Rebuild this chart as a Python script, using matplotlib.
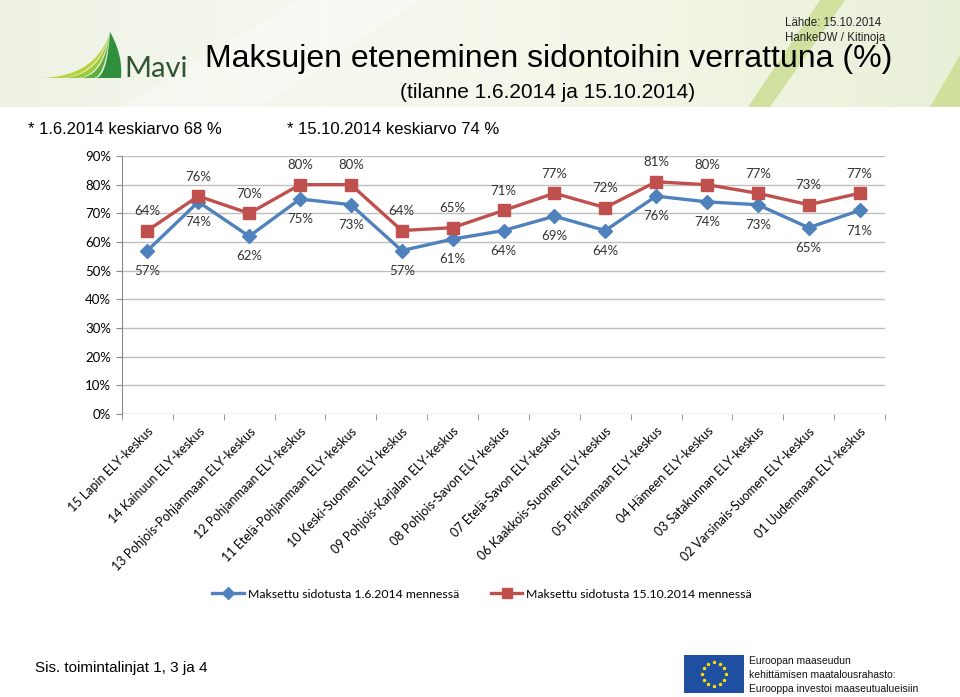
import numpy as np
import matplotlib.pyplot as plt
from matplotlib.patches import Polygon, Rectangle
from matplotlib.lines import Line2D
from matplotlib.colors import LinearSegmentedColormap

regions = ['15 Lapin ELY-keskus', '14 Kainuun ELY-keskus', '13 Pohjois-Pohjanmaan ELY-keskus',
           '12 Pohjanmaan ELY-keskus', '11 Etelä-Pohjanmaan ELY-keskus', '10 Keski-Suomen ELY-keskus',
           '09 Pohjois-Karjalan ELY-keskus', '08 Pohjois-Savon ELY-keskus', '07 Etelä-Savon ELY-keskus',
           '06 Kaakkois-Suomen ELY-keskus', '05 Pirkanmaan ELY-keskus', '04 Hämeen ELY-keskus',
           '03 Satakunnan ELY-keskus', '02 Varsinais-Suomen ELY-keskus', '01 Uudenmaan ELY-keskus']
paid_june = [57, 74, 62, 75, 73, 57, 61, 64, 69, 64, 76, 74, 73, 65, 71]
paid_oct = [64, 76, 70, 80, 80, 64, 65, 71, 77, 72, 81, 80, 77, 73, 77]
label_june = 'Maksettu sidotusta 1.6.2014 mennessä'
label_oct = 'Maksettu sidotusta 15.10.2014 mennessä'
yticks = [0, 10, 20, 30, 40, 50, 60, 70, 80, 90]

BLUE = '#4F81BD'
RED = '#C0504D'
chart_font = 'Lato'
head_font = 'Liberation Sans'

W, H = 960, 697
fig = plt.figure(figsize=(W / 100, H / 100), dpi=100)
fig.patch.set_facecolor('white')

# header band background
hdr = fig.add_axes([0, 1 - 107 / H, 1, 107 / H])
hdr.set_xlim(0, W)
hdr.set_ylim(107, 0)
hdr.axis('off')
grad = np.vstack([np.linspace(0, 1, 300)] * 10)
cmap = LinearSegmentedColormap.from_list('hdr', ['#eef2e4', '#f6f8ef', '#f2f6e6', '#e9f0d8'])
hdr.imshow(grad, cmap=cmap, extent=[0, W, 107, 0], aspect='auto')
hdr.add_patch(Polygon([[120, 107], [300, 0], [420, 0], [260, 107]], closed=True, color='white', alpha=0.35, lw=0))
hdr.add_patch(Polygon([[748, 107], [820, 0], [845, 0], [770, 107]], closed=True, color='#c9dc8e', alpha=0.8, lw=0))
hdr.add_patch(Polygon([[930, 107], [960, 55], [960, 107]], closed=True, color='#c9dc8e', alpha=0.8, lw=0))

# overlay in pixel coordinates
ov = fig.add_axes([0, 0, 1, 1], zorder=5)
ov.set_xlim(0, W)
ov.set_ylim(H, 0)
ov.axis('off')
ov.patch.set_alpha(0)


def bez(p0, p1, p2, n=30):
    t = np.linspace(0, 1, n)[:, None]
    return (1 - t) ** 2 * np.array(p0) + 2 * (1 - t) * t * np.array(p1) + t ** 2 * np.array(p2)


# Mavi logo: curved blades meeting at a peak
peak = (110, 32)
bases = [42, 62, 80, 96, 121]
blade_cols = ['#b9d23a', '#9ccb3b', '#5fae3f', '#2f8f3c']
for k, c in enumerate(blade_cols):
    b0, b1 = bases[k], bases[k + 1]
    left = bez((b0, 78), (b0 + 0.8 * (peak[0] - b0), 76), peak)
    if k == len(blade_cols) - 1:
        right = bez(peak, (123, 55), (b1, 78))
    else:
        right = bez((b1 - 2, 78), (b1 - 2 + 0.8 * (peak[0] - b1), 76), peak)[::-1]
    ov.add_patch(Polygon(np.vstack([left, right]), closed=True, color=c, lw=0))
ov.text(124, 77, 'Mavi', fontsize=21, color='#2f5535', fontfamily='Lato', va='baseline')

# titles
ov.text(205, 59, 'Maksujen eteneminen sidontoihin verrattuna (%)', fontsize=23, fontfamily=head_font,
        va='center', ha='left', color='black')
ov.text(548, 92, '(tilanne 1.6.2014 ja 15.10.2014)', fontsize=15, fontfamily=head_font,
        va='center', ha='center', color='black')
ov.text(785, 23, 'Lähde: 15.10.2014', fontsize=8.3, fontfamily=head_font, va='center', color='#222222')
ov.text(785, 38, 'HankeDW / Kitinoja', fontsize=8.3, fontfamily=head_font, va='center', color='#222222')
ov.text(28, 130, '* 1.6.2014 keskiarvo 68 %', fontsize=12, fontfamily=head_font, va='center')
ov.text(287, 130, '* 15.10.2014 keskiarvo 74 %', fontsize=12, fontfamily=head_font, va='center')

# footer
ov.text(35, 668, 'Sis. toimintalinjat 1, 3 ja 4', fontsize=11, fontfamily=head_font, va='center')
ov.add_patch(Rectangle((684, 655), 60, 38, color='#1f4fa0', lw=0))
ang = np.linspace(0, 2 * np.pi, 13)[:-1]
ov.scatter(714 + 12 * np.cos(ang), 674 + 12 * np.sin(ang), s=3, marker='*', color='#ffdd00', zorder=6)
for i, line in enumerate(['Euroopan maaseudun', 'kehittämisen maatalousrahasto:',
                          'Eurooppa investoi maaseutualueisiin']):
    ov.text(749, 661 + i * 14, line, fontsize=7.5, fontfamily=head_font, va='center', color='#111111')

# chart
ax = fig.add_axes([122 / W, 1 - 414 / H, (885 - 122) / W, (414 - 156) / H])
x = np.arange(len(regions))
ax.plot(x, paid_june, color=BLUE, lw=2.4, marker='D', ms=7, label=label_june, zorder=3)
ax.plot(x, paid_oct, color=RED, lw=2.4, marker='s', ms=8, label=label_oct, zorder=3)
for i in x:
    ax.annotate(f'{paid_oct[i]}%', (i, paid_oct[i]), xytext=(0, 14), textcoords='offset points',
                ha='center', va='center', fontsize=9.5, fontfamily=chart_font, color='#333333')
    ax.annotate(f'{paid_june[i]}%', (i, paid_june[i]), xytext=(0, -14.5), textcoords='offset points',
                ha='center', va='center', fontsize=9.5, fontfamily=chart_font, color='#333333')

ax.set_xlim(-0.5, len(regions) - 0.5)
ax.set_ylim(0, 90)
ax.set_yticks(yticks)
ax.set_yticklabels([f'{v}%' for v in yticks], fontsize=9.5, fontfamily=chart_font)
ax.set_xticks(x)
ax.set_xticklabels(regions, rotation=45, ha='right', va='top', rotation_mode='anchor',
                   fontsize=9, fontfamily=chart_font)
ax.set_xticks(np.arange(-0.5, len(regions), 1), minor=True)
ax.tick_params(axis='x', which='major', length=0, pad=8)
ax.tick_params(axis='x', which='minor', length=4, color='#888888')
ax.tick_params(axis='y', length=4, color='#888888', pad=4)
ax.grid(axis='y', color='#BFBFBF', lw=1)
ax.set_axisbelow(True)
for s in ['top', 'right', 'bottom']:
    ax.spines[s].set_visible(False)
ax.spines['left'].set_color('#888888')

handles = [Line2D([], [], color=BLUE, lw=2.4, marker='D', ms=6),
           Line2D([], [], color=RED, lw=2.4, marker='s', ms=7)]
fig.legend(handles, [label_june, label_oct], loc='center', bbox_to_anchor=(482 / W, 1 - 594 / H),
           ncol=2, frameon=False, prop={'family': chart_font, 'size': 8.8}, columnspacing=2.6,
           handlelength=2.6, handletextpad=0.3)

fig.savefig('out.png', dpi=100)
